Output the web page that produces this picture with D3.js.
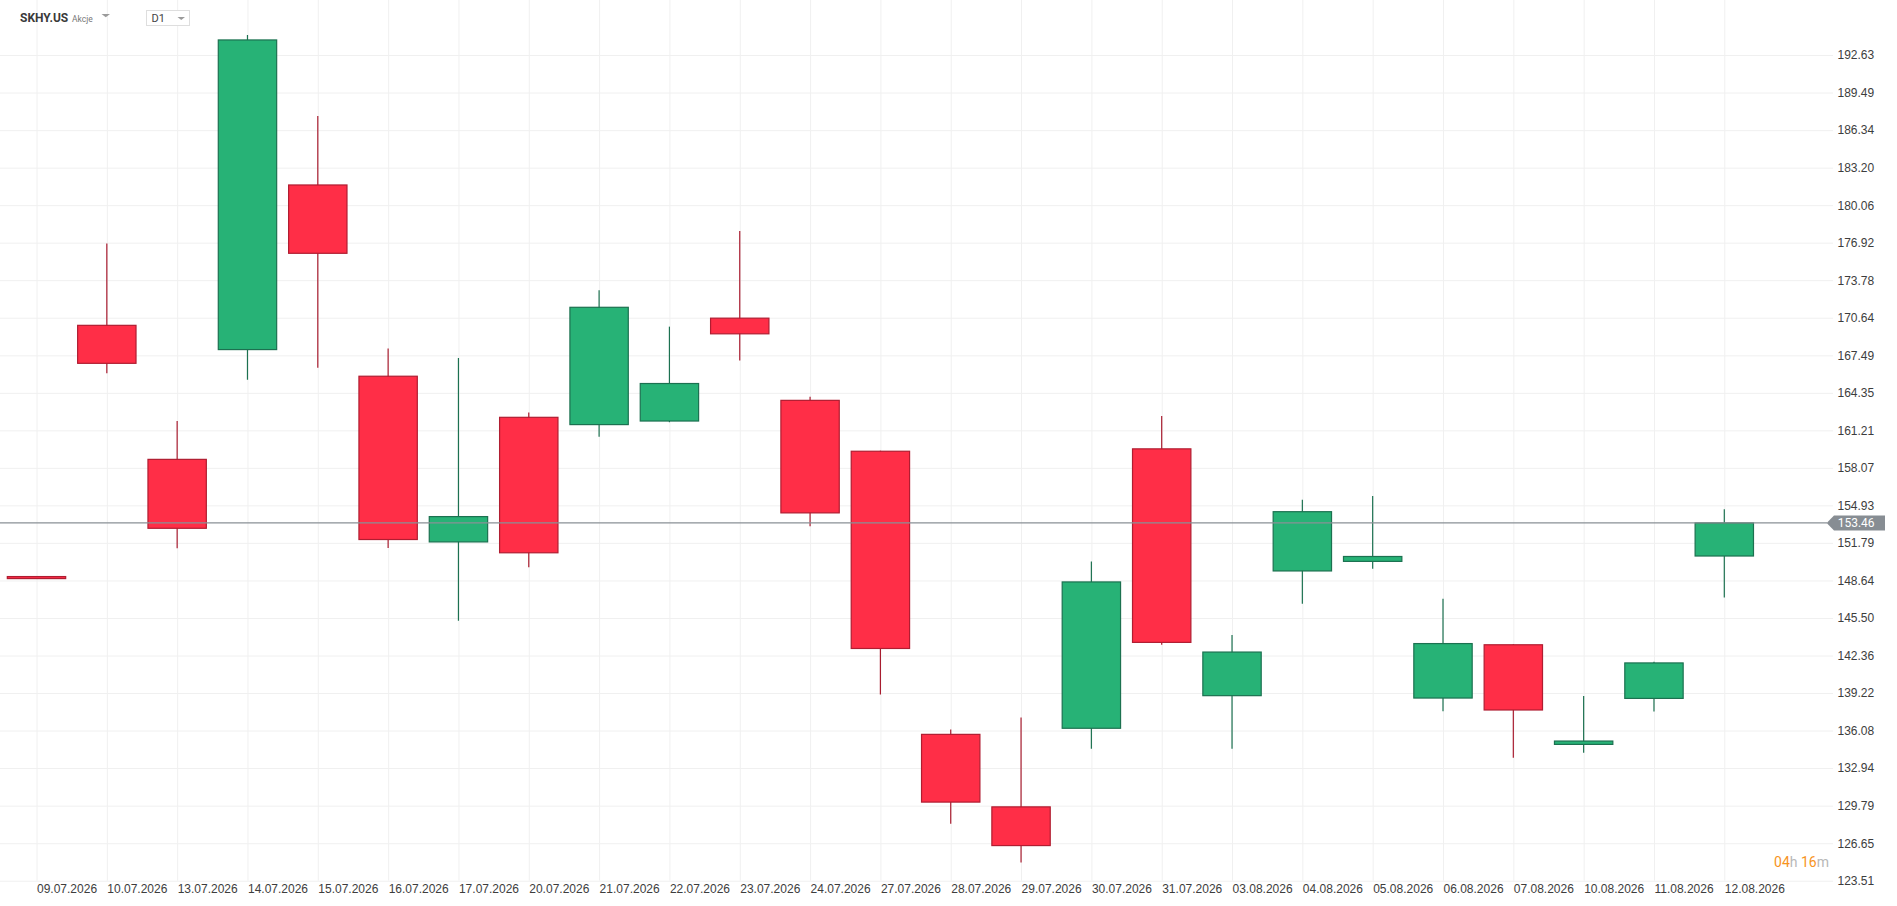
<!DOCTYPE html>
<html>
<head>
<meta charset="utf-8">
<script src="https://cdn.jsdelivr.net/npm/d3@7"></script>
<style>
  html, body { margin: 0; padding: 0; background: #fff; }
  svg { display: block; font-family: Roboto, "Noto Sans", sans-serif; }
  .axis text { fill: #3d3d3d; font-size: 12px; }
  .axis .domain { display: none; }
  .axis line { stroke: #f0f0f0; }
</style>
</head>
<body>
<div id="chart"></div>
<script>
// data
const dates = ["09.07.2026", "10.07.2026", "13.07.2026", "14.07.2026", "15.07.2026", "16.07.2026",
  "17.07.2026", "20.07.2026", "21.07.2026", "22.07.2026", "23.07.2026", "24.07.2026", "27.07.2026",
  "28.07.2026", "29.07.2026", "30.07.2026", "31.07.2026", "03.08.2026", "04.08.2026", "05.08.2026",
  "06.08.2026", "07.08.2026", "10.08.2026", "11.08.2026", "12.08.2026"];
const opens  = [148.97, 170.00, 158.78, 167.97, 181.75, 165.74, 151.87, 162.30, 161.69, 161.99, 170.60, 163.72, 159.46,
  135.76, 129.69, 136.27, 159.66, 139.00, 149.44, 150.24, 138.80, 143.26, 134.92, 138.77, 150.69];
const highs  = [148.97, 176.86, 161.99, 194.31, 187.52, 168.07, 167.26, 162.70, 172.93, 169.89, 177.89, 164.02, 159.50,
  136.16, 137.18, 150.24, 162.40, 144.07, 155.41, 155.71, 147.11, 143.30, 138.97, 141.84, 154.60];
const lows   = [148.80, 165.98, 151.34, 165.44, 166.45, 151.36, 145.28, 149.74, 160.67, 161.89, 167.06, 153.18, 139.10,
  128.27, 125.03, 134.55, 143.26, 134.55, 146.70, 149.63, 137.69, 133.81, 134.23, 137.67, 147.21];
const closes = [148.80, 166.82, 153.01, 193.89, 176.03, 152.07, 153.99, 150.96, 171.51, 165.13, 169.29, 154.30, 142.95,
  130.09, 126.45, 148.52, 143.46, 142.65, 154.40, 150.65, 143.36, 137.80, 135.20, 141.74, 153.46];
const yTicks = [192.63, 189.49, 186.34, 183.20, 180.06, 176.92, 173.78, 170.64, 167.49, 164.35, 161.21, 158.07,
  154.93, 151.79, 148.64, 145.50, 142.36, 139.22, 136.08, 132.94, 129.79, 126.65, 123.51];
const lastPrice = 153.46;
const symbol = "SKHY.US";
const assetType = "Akcje";
const interval = "D1";
const countdown = ["04", "h ", "16", "m"];

const svgWidth = 1897;
const svgHeight = 906;
const plotRight = 1833;
const plotBottom = 880.7;

const svg = d3.select("#chart")
  .append("svg")
  .attr("width", svgWidth)
  .attr("height", svgHeight);

const candles = dates.map((d, i) => ({
  date: d, open: opens[i], high: highs[i], low: lows[i], close: closes[i]
}));

// scales
const x = d3.scalePoint()
  .domain(dates)
  .range([36.5, 1724.3]);

const y = d3.scaleLinear()
  .domain([123.51, 192.63])
  .range([plotBottom, 55]);

const bodyW = x.step() * 0.83;

// axes + grid
svg.append("g")
  .attr("class", "axis")
  .attr("transform", `translate(0, ${plotBottom})`)
  .call(d3.axisBottom(x).tickSize(-plotBottom).tickPadding(3.5))
  .selectAll("text")
  .attr("text-anchor", "start");

svg.append("g")
  .attr("class", "axis")
  .attr("transform", `translate(${plotRight}, 0)`)
  .call(d3.axisRight(y).tickValues(yTicks).tickFormat(d3.format(".2f")).tickSize(-plotRight).tickPadding(4.5));

// candles
const up = d => d.close >= d.open;
const candleG = svg.append("g")
  .selectAll("g")
  .data(candles)
  .enter()
  .append("g");

candleG.append("line")
  .attr("x1", d => x(d.date))
  .attr("x2", d => x(d.date))
  .attr("y1", d => y(d.high))
  .attr("y2", d => y(d.low))
  .attr("stroke", d => up(d) ? "#1c7150" : "#a81c2f")
  .attr("stroke-width", 1.2);

candleG.append("rect")
  .attr("x", d => x(d.date) - bodyW / 2)
  .attr("y", d => y(Math.max(d.open, d.close)))
  .attr("width", bodyW)
  .attr("height", d => Math.max(1.5, Math.abs(y(d.open) - y(d.close))))
  .attr("fill", d => up(d) ? "#27b276" : "#ff2e47")
  .attr("stroke", d => up(d) ? "#1c7150" : "#b01d31")
  .attr("stroke-width", 1.2);

// last price line and badge
const py = y(lastPrice);
svg.append("line")
  .attr("x1", 0)
  .attr("x2", 1827)
  .attr("y1", py)
  .attr("y2", py)
  .attr("stroke", "#8a9096")
  .attr("stroke-width", 1.2);

svg.append("path")
  .attr("d", `M1826.7,${py} L1834,${py - 7.5} L1885,${py - 7.5} L1885,${py + 7.5} L1834,${py + 7.5} Z`)
  .attr("fill", "#878d93");

svg.append("text")
  .attr("x", 1837.7)
  .attr("y", py + 4.3)
  .attr("fill", "#fff")
  .attr("font-size", "12px")
  .text(lastPrice.toFixed(2));

// countdown
const cd = svg.append("text")
  .attr("x", 1829)
  .attr("y", 866.5)
  .attr("text-anchor", "end")
  .attr("font-size", "14px");
cd.selectAll("tspan")
  .data(countdown)
  .enter()
  .append("tspan")
  .attr("fill", (d, i) => i % 2 === 0 ? "#f7941d" : "#b8b8b8")
  .text(d => d);

// header
svg.append("text")
  .attr("x", 20)
  .attr("y", 21.5)
  .attr("font-size", "12px")
  .attr("font-weight", "bold")
  .attr("fill", "#3a3a3a")
  .text(symbol);

svg.append("text")
  .attr("x", 72)
  .attr("y", 21.5)
  .attr("font-size", "8.5px")
  .attr("fill", "#777")
  .text(assetType);

svg.append("path")
  .attr("d", "M101.5,14 L110,14 L105.75,17.3 Z")
  .attr("fill", "#9a9a9a");

svg.append("rect")
  .attr("x", 146.5)
  .attr("y", 10.5)
  .attr("width", 43)
  .attr("height", 15)
  .attr("fill", "#fff")
  .attr("stroke", "#dedede");

svg.append("text")
  .attr("x", 151.5)
  .attr("y", 22.3)
  .attr("font-size", "11px")
  .attr("fill", "#444")
  .text(interval);

svg.append("path")
  .attr("d", "M177.5,17 L185,17 L181.25,20 Z")
  .attr("fill", "#9a9a9a");
</script>
</body>
</html>
